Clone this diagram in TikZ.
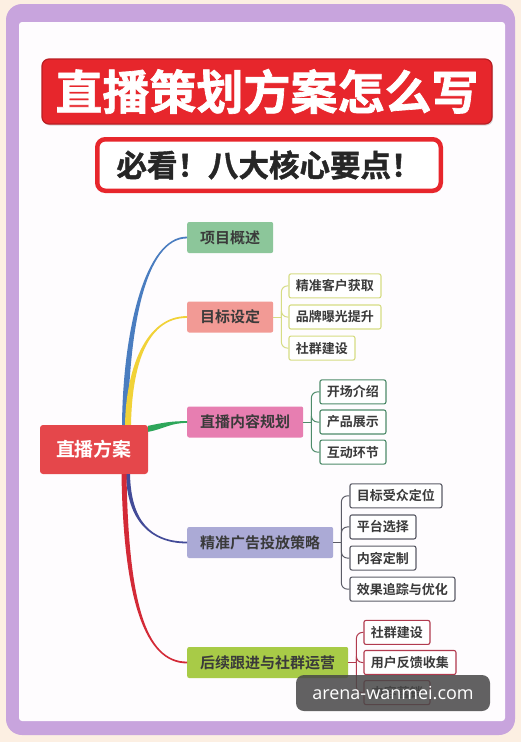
\documentclass[tikz,border=0pt]{standalone}
\usepackage{fontspec}
\setmainfont{Noto Sans CJK SC}[BoldFont={Noto Sans CJK SC Bold}]
\newfontfamily\heavyfont{Noto Sans CJK SC Bold}[FakeBold=1.4]
\newfontfamily\wmfont{Open Sans}
\usetikzlibrary{positioning,shadows}

\definecolor{bgcream}{HTML}{FCEFE2}
\definecolor{framepurple}{HTML}{C8A4DD}
\definecolor{paper}{HTML}{FEFCFE}
\definecolor{titlered}{HTML}{E7262C}
\definecolor{rootred}{HTML}{E5474B}
\definecolor{inkgray}{HTML}{3A3A3A}
\definecolor{overviewgreen}{HTML}{8CC69A}
\definecolor{goalsalmon}{HTML}{F29A95}
\definecolor{contentpink}{HTML}{E77EB1}
\definecolor{adlavender}{HTML}{ABAAD6}
\definecolor{followlime}{HTML}{A8CB47}
\definecolor{goalline}{HTML}{D6DC84}
\definecolor{contentline}{HTML}{4E8B6A}
\definecolor{adline}{HTML}{5B5B66}
\definecolor{followline}{HTML}{B13A4E}
\definecolor{limbblue}{HTML}{4A7DC0}
\definecolor{limbyellow}{HTML}{F1D238}
\definecolor{limbgreen}{HTML}{2EA65A}
\definecolor{limbnavy}{HTML}{434B98}
\definecolor{limbred}{HTML}{D32A37}

\tikzset{
  branch/.style={rectangle, rounded corners=2pt, text=inkgray,
    font=\fontsize{15}{18}\selectfont\bfseries, inner xsep=13pt,
    minimum height=31pt, anchor=west},
  leaf/.style={rectangle, rounded corners=2pt, draw, line width=1.1pt,
    fill=white, text=inkgray, font=\fontsize{13}{16}\selectfont\bfseries,
    inner xsep=7pt, minimum height=24pt},
  fork/.style={line width=1pt, rounded corners=6pt},
}

\begin{document}
\begin{tikzpicture}[x=1pt, y=-1pt]
    % frame
    \useasboundingbox (0,0) rectangle (521,742);
    \fill[bgcream] (0,0) rectangle (521,742);
    \fill[framepurple, rounded corners=16pt] (6,4) rectangle (515,735);
    \fill[paper, rounded corners=3pt] (19,22) rectangle (505,721);

    % headings
    \node[fill=titlered, draw=titlered!80!black, line width=1.2pt,
      rounded corners=7pt, minimum width=450pt, minimum height=65pt,
      text=white, font=\heavyfont\fontsize{47}{50}\selectfont,
      drop shadow={shadow xshift=1pt, shadow yshift=-1.5pt, opacity=0.3}]
      (title) at (267,91.5) {直播策划方案怎么写};
    \node[fill=white, draw=titlered, line width=4.5pt, rounded corners=8pt,
      minimum width=343.5pt, minimum height=51.5pt, text=black!85,
      font=\heavyfont\fontsize{30.5}{33}\selectfont]
      (subtitle) at (269,165) {必看！八大核心要点！};

    % root and branches
    \node[fill=rootred, rounded corners=3pt, text=white,
      font=\fontsize{19}{22}\selectfont\bfseries,
      minimum width=108pt, minimum height=49pt] (root) at (94,449.5) {直播方案};
    \node[branch, fill=overviewgreen] (overview) at (187,237.5) {项目概述};
    \node[branch, fill=goalsalmon] (goal) at (187,317) {目标设定};
    \node[branch, fill=contentpink] (content) at (187,422) {直播内容规划};
    \node[branch, fill=adlavender] (ads) at (187,542.5) {精准广告投放策略};
    \node[branch, fill=followlime] (follow) at (187,662.5) {后续跟进与社群运营};

    % leaves
    \node[leaf, draw=goalline, right=15pt of goal] (goalB) {品牌曝光提升};
    \node[leaf, draw=goalline, above=6pt of goalB.north west, anchor=south west] (goalA) {精准客户获取};
    \node[leaf, draw=goalline, below=6pt of goalB.south west, anchor=north west] (goalC) {社群建设};

    \node[leaf, draw=contentline, right=16pt of content] (contentB) {产品展示};
    \node[leaf, draw=contentline, above=5pt of contentB.north west, anchor=south west] (contentA) {开场介绍};
    \node[leaf, draw=contentline, below=5pt of contentB.south west, anchor=north west] (contentC) {互动环节};

    \node[leaf, draw=adline, right=16pt of ads.east, anchor=south west, yshift=3pt] (adsB) {平台选择};
    \node[leaf, draw=adline, above=6pt of adsB.north west, anchor=south west] (adsA) {目标受众定位};
    \node[leaf, draw=adline, below=6pt of adsB.south west, anchor=north west] (adsC) {内容定制};
    \node[leaf, draw=adline, below=6pt of adsC.south west, anchor=north west] (adsD) {效果追踪与优化};

    \node[leaf, draw=followline, right=15pt of follow] (followB) {用户反馈收集};
    \node[leaf, draw=followline, above=5pt of followB.north west, anchor=south west] (followA) {社群建设};
    \node[leaf, draw=followline, below=5pt of followB.south west, anchor=north west] (followC) {内容营销};

    % limbs from the root
    \fill[limbblue] ([xshift=28pt]root.north) .. controls (123,330) and (145,236.6) .. ([yshift=0.9pt]overview.west)
      -- ([yshift=-0.9pt]overview.west) .. controls (145,238.4) and (129,330) .. ([xshift=34pt]root.north) -- cycle;
    \fill[limbyellow] ([xshift=31pt]root.north) .. controls (126,370) and (145,316.1) .. ([yshift=0.9pt]goal.west)
      -- ([yshift=-0.9pt]goal.west) .. controls (145,317.9) and (132,370) .. ([xshift=37pt]root.north) -- cycle;
    \fill[limbgreen] ([yshift=-1pt]root.north east) .. controls (162,423) and (170,421.1) .. ([yshift=0.9pt]content.west)
      -- ([yshift=-0.9pt]content.west) .. controls (170,422.9) and (164,429) .. ([yshift=-7pt]root.north east) -- cycle;
    \fill[limbnavy] ([xshift=32pt]root.south) .. controls (127,520) and (150,543.4) .. ([yshift=-0.9pt]ads.west)
      -- ([yshift=0.9pt]ads.west) .. controls (150,541.6) and (131,520) .. ([xshift=36pt]root.south) -- cycle;
    \fill[limbred] ([xshift=27.5pt]root.south) .. controls (123.5,600) and (145,663.4) .. ([yshift=-0.9pt]follow.west)
      -- ([yshift=0.9pt]follow.west) .. controls (145,661.6) and (128.5,600) .. ([xshift=32.5pt]root.south) -- cycle;

    % forks to the leaves
    \path[draw, fork, goalline] (goal.east) -- ++(8pt,0) coordinate (goalFork);
    \path[draw, fork, goalline] (goalFork) |- (goalA.west);
    \path[draw, fork, goalline] (goalFork) |- (goalB.west);
    \path[draw, fork, goalline] (goalFork) |- (goalC.west);

    \path[draw, fork, contentline] (content.east) -- ++(8pt,0) coordinate (contentFork);
    \path[draw, fork, contentline] (contentFork) |- (contentA.west);
    \path[draw, fork, contentline] (contentFork) |- (contentB.west);
    \path[draw, fork, contentline] (contentFork) |- (contentC.west);

    \path[draw, fork, adline] (ads.east) -- ++(8pt,0) coordinate (adsFork);
    \path[draw, fork, adline] (adsFork) |- (adsA.west);
    \path[draw, fork, adline] (adsFork) |- (adsB.west);
    \path[draw, fork, adline] (adsFork) |- (adsC.west);
    \path[draw, fork, adline] (adsFork) |- (adsD.west);

    \path[draw, fork, followline] (follow.east) -- ++(8pt,0) coordinate (followFork);
    \path[draw, fork, followline] (followFork) |- (followA.west);
    \path[draw, fork, followline] (followFork) |- (followB.west);
    \path[draw, fork, followline] (followFork) |- (followC.west);

    % watermark
    \node[fill=black!72, fill opacity=0.85, text opacity=1, text=white,
      rounded corners=8pt, minimum width=194pt, minimum height=36pt,
      font=\wmfont\fontsize{18}{20}\selectfont] (watermark) at (393,693) {arena-wanmei.com};
\end{tikzpicture}
\end{document}
